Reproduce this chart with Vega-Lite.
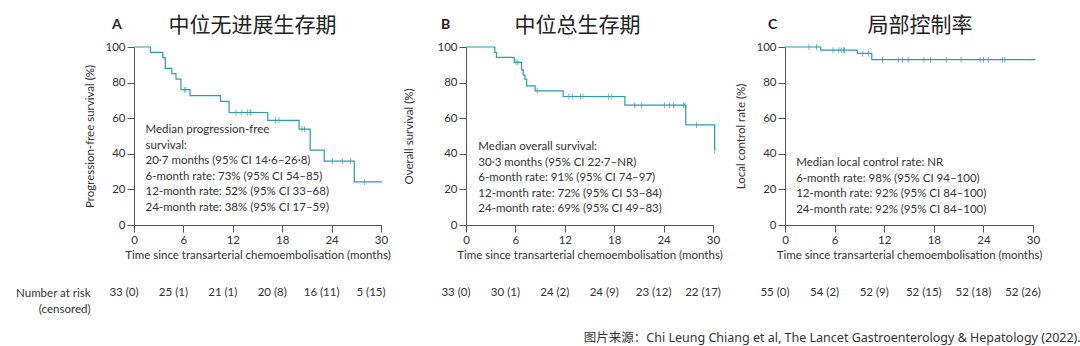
{
  "$schema": "https://vega.github.io/schema/vega-lite/v6.json",
  "padding": {"left": 15, "top": 15, "right": 5, "bottom": 5},
  "background": "white",
  "config": {
    "view": {"stroke": null},
    "font": "Lato",
    "axis": {"labelFont": "Lato", "titleFont": "Lato", "labelFontSize": 11.5, "titleFontSize": 11.5, "titleFontWeight": "normal", "labelColor": "#333", "titleColor": "#333", "domainColor": "#555", "tickColor": "#555", "grid": false, "tickSize": 7, "labelPadding": 2, "labelOverlap": false},
    "axisX": {"labelFlush": false},
    "title": {"font": "Noto Sans CJK SC", "fontWeight": "normal", "color": "#222"},
    "text": {"font": "Lato", "fontSize": 11.5, "color": "#333"}
  },
  "datasets": {
    "km": [
      {"panel": "A", "t": 0, "s": 100}, {"panel": "A", "t": 2.0, "s": 97}, {"panel": "A", "t": 3.5, "s": 94}, {"panel": "A", "t": 3.8, "s": 88}, {"panel": "A", "t": 4.6, "s": 85}, {"panel": "A", "t": 5.1, "s": 82}, {"panel": "A", "t": 5.7, "s": 76}, {"panel": "A", "t": 6.8, "s": 72.7}, {"panel": "A", "t": 10.5, "s": 69.4}, {"panel": "A", "t": 11.55, "s": 63.2}, {"panel": "A", "t": 16.25, "s": 58.8}, {"panel": "A", "t": 20.05, "s": 53.9}, {"panel": "A", "t": 21.4, "s": 42.1}, {"panel": "A", "t": 23.1, "s": 35.9}, {"panel": "A", "t": 26.75, "s": 24.2}, {"panel": "A", "t": 30.1, "s": 24.2},
      {"panel": "B", "t": 0, "s": 100}, {"panel": "B", "t": 3.5, "s": 97}, {"panel": "B", "t": 3.7, "s": 94.2}, {"panel": "B", "t": 5.86, "s": 91.4}, {"panel": "B", "t": 6.75, "s": 87.2}, {"panel": "B", "t": 6.95, "s": 84.2}, {"panel": "B", "t": 7.15, "s": 82}, {"panel": "B", "t": 7.36, "s": 78.2}, {"panel": "B", "t": 8.4, "s": 75.4}, {"panel": "B", "t": 11.8, "s": 72.2}, {"panel": "B", "t": 19.3, "s": 67.3}, {"panel": "B", "t": 26.7, "s": 56.2}, {"panel": "B", "t": 30.2, "s": 42.1},
      {"panel": "C", "t": 0, "s": 100}, {"panel": "C", "t": 4.33, "s": 98.2}, {"panel": "C", "t": 8.75, "s": 96.4}, {"panel": "C", "t": 10.5, "s": 92.9}, {"panel": "C", "t": 30.3, "s": 92.9}
    ],
    "censor": [
      {"panel": "A", "t": 6.1, "s": 76}, {"panel": "A", "t": 6.3, "s": 76}, {"panel": "A", "t": 12.4, "s": 63.2}, {"panel": "A", "t": 13.1, "s": 63.2}, {"panel": "A", "t": 13.8, "s": 63.2}, {"panel": "A", "t": 14.1, "s": 63.2}, {"panel": "A", "t": 14.2, "s": 63.2}, {"panel": "A", "t": 17.2, "s": 58.8}, {"panel": "A", "t": 17.6, "s": 58.8}, {"panel": "A", "t": 20.4, "s": 53.9}, {"panel": "A", "t": 20.7, "s": 53.9}, {"panel": "A", "t": 24.1, "s": 35.9}, {"panel": "A", "t": 25.3, "s": 35.9}, {"panel": "A", "t": 26.3, "s": 35.9}, {"panel": "A", "t": 28.0, "s": 24.2},
      {"panel": "B", "t": 6.07, "s": 91.4}, {"panel": "B", "t": 6.3, "s": 91.4}, {"panel": "B", "t": 8.65, "s": 75.4}, {"panel": "B", "t": 12.5, "s": 72.2}, {"panel": "B", "t": 12.9, "s": 72.2}, {"panel": "B", "t": 13.9, "s": 72.2}, {"panel": "B", "t": 14.2, "s": 72.2}, {"panel": "B", "t": 17.3, "s": 72.2}, {"panel": "B", "t": 17.7, "s": 72.2}, {"panel": "B", "t": 20.5, "s": 67.3}, {"panel": "B", "t": 21.3, "s": 67.3}, {"panel": "B", "t": 24.1, "s": 67.3}, {"panel": "B", "t": 24.7, "s": 67.3}, {"panel": "B", "t": 25.2, "s": 67.3}, {"panel": "B", "t": 26.4, "s": 67.3}, {"panel": "B", "t": 26.6, "s": 67.3}, {"panel": "B", "t": 28.0, "s": 56.2}, {"panel": "B", "t": 30.2, "s": 42.1},
      {"panel": "C", "t": 2.9, "s": 100}, {"panel": "C", "t": 3.8, "s": 100}, {"panel": "C", "t": 5.8, "s": 98.2}, {"panel": "C", "t": 6.5, "s": 98.2}, {"panel": "C", "t": 6.8, "s": 98.2}, {"panel": "C", "t": 7.1, "s": 98.2}, {"panel": "C", "t": 7.2, "s": 98.2}, {"panel": "C", "t": 9.4, "s": 96.4}, {"panel": "C", "t": 10.1, "s": 96.4}, {"panel": "C", "t": 11.8, "s": 92.9}, {"panel": "C", "t": 13.7, "s": 92.9}, {"panel": "C", "t": 14.2, "s": 92.9}, {"panel": "C", "t": 14.9, "s": 92.9}, {"panel": "C", "t": 16.8, "s": 92.9}, {"panel": "C", "t": 17.6, "s": 92.9}, {"panel": "C", "t": 19.5, "s": 92.9}, {"panel": "C", "t": 21.3, "s": 92.9}, {"panel": "C", "t": 23.6, "s": 92.9}, {"panel": "C", "t": 24.0, "s": 92.9}, {"panel": "C", "t": 24.6, "s": 92.9}, {"panel": "C", "t": 26.3, "s": 92.9}, {"panel": "C", "t": 26.6, "s": 92.9}
    ],
    "risk": [
      {"panel": "A", "row": "Number at risk", "t": 0, "label": "33 (0)"}, {"panel": "A", "row": "Number at risk", "t": 6, "label": "25 (1)"}, {"panel": "A", "row": "Number at risk", "t": 12, "label": "21 (1)"}, {"panel": "A", "row": "Number at risk", "t": 18, "label": "20 (8)"}, {"panel": "A", "row": "Number at risk", "t": 24, "label": "16 (11)"}, {"panel": "A", "row": "Number at risk", "t": 30, "label": "5 (15)"},
      {"panel": "B", "row": "Number at risk", "t": 0, "label": "33 (0)"}, {"panel": "B", "row": "Number at risk", "t": 6, "label": "30 (1)"}, {"panel": "B", "row": "Number at risk", "t": 12, "label": "24 (2)"}, {"panel": "B", "row": "Number at risk", "t": 18, "label": "24 (9)"}, {"panel": "B", "row": "Number at risk", "t": 24, "label": "23 (12)"}, {"panel": "B", "row": "Number at risk", "t": 30, "label": "22 (17)"},
      {"panel": "C", "row": "Number at risk", "t": 0, "label": "55 (0)"}, {"panel": "C", "row": "Number at risk", "t": 6, "label": "54 (2)"}, {"panel": "C", "row": "Number at risk", "t": 12, "label": "52 (9)"}, {"panel": "C", "row": "Number at risk", "t": 18, "label": "52 (15)"}, {"panel": "C", "row": "Number at risk", "t": 24, "label": "52 (18)"}, {"panel": "C", "row": "Number at risk", "t": 30, "label": "52 (26)"}
    ]
  },
  "title": {"text": "图片来源：Chi Leung Chiang et al, The Lancet Gastroenterology & Hepatology (2022).", "orient": "bottom", "anchor": "end", "fontSize": 12.5, "color": "#333", "font": "Noto Sans, Noto Sans CJK SC", "offset": 17, "dx": 39},
  "spacing": 12,
  "hconcat": [
    {
      "title": {"text": "A", "anchor": "start", "frame": "group", "font": "Lato", "fontSize": 14, "fontWeight": "bold", "color": "#222", "dx": -22, "dy": 21},
      "spacing": 22,
      "vconcat": [
        {
          "width": 247, "height": 178,
          "title": {"text": "中位无进展生存期", "fontSize": 21, "anchor": "middle", "offset": 5, "dx": -5},
          "layer": [
            {"data": {"name": "km"}, "transform": [{"filter": "datum.panel === 'A'"}],
             "mark": {"type": "line", "interpolate": "step-after", "color": "#2b9cab", "strokeWidth": 1.2},
             "encoding": {
               "x": {"field": "t", "type": "quantitative", "scale": {"domain": [0, 30], "nice": false}, "axis": {"values": [0, 6, 12, 18, 24, 30], "tickCount": 12, "title": "Time since transarterial chemoembolisation (months)"}},
               "y": {"field": "s", "type": "quantitative", "scale": {"domain": [0, 100]}, "axis": {"values": [0, 20, 40, 60, 80, 100], "tickCount": 12, "title": "Progression-free survival (%)", "titlePadding": 9}}
             }},
            {"data": {"name": "censor"}, "transform": [{"filter": "datum.panel === 'A'"}],
             "mark": {"type": "tick", "orient": "vertical", "color": "#2b9cab", "size": 6, "thickness": 1},
             "encoding": {"x": {"field": "t", "type": "quantitative"}, "y": {"field": "s", "type": "quantitative"}}},
            {"data": {"values": [{}]},
             "mark": {"type": "text", "align": "left", "baseline": "top", "lineHeight": 15.5},
             "encoding": {"x": {"datum": 1.4}, "y": {"datum": 56.5}, "text": {"value": ["Median progression-free", "survival:", "20·7 months (95% CI 14·6–26·8)", "6-month rate: 73% (95% CI 54–85)", "12-month rate: 52% (95% CI 33–68)", "24-month rate: 38% (95% CI 17–59)"]}}}
          ]
        },
        {
          "width": 247, "height": 20,
          "data": {"name": "risk"}, "transform": [{"filter": "datum.panel === 'A'"}],
          "mark": {"type": "text", "align": "center", "dx": -10},
          "encoding": {
            "x": {"field": "t", "type": "quantitative", "scale": {"domain": [0, 30], "nice": false}, "axis": null},
            "y": {"field": "row", "type": "nominal", "scale": {"paddingInner": 0, "paddingOuter": 0}, "axis": {"title": null, "domain": false, "ticks": false, "labelPadding": 44, "labelBaseline": "top", "labelOffset": -6, "labelAlign": "right", "labelLineHeight": 16, "labelExpr": "[datum.label, '(censored)']"}},
            "text": {"field": "label"}
          }
        }
      ]
    },
    {
      "title": {"text": "B", "anchor": "start", "frame": "group", "font": "Lato", "fontSize": 14, "fontWeight": "bold", "color": "#222", "dx": -25, "dy": 21},
      "spacing": 22,
      "vconcat": [
        {
          "width": 247, "height": 178,
          "title": {"text": "中位总生存期", "fontSize": 21, "anchor": "middle", "offset": 5, "dx": -12},
          "layer": [
            {"data": {"name": "km"}, "transform": [{"filter": "datum.panel === 'B'"}],
             "mark": {"type": "line", "interpolate": "step-after", "color": "#2b9cab", "strokeWidth": 1.2},
             "encoding": {
               "x": {"field": "t", "type": "quantitative", "scale": {"domain": [0, 30], "nice": false}, "axis": {"values": [0, 6, 12, 18, 24, 30], "tickCount": 12, "title": "Time since transarterial chemoembolisation (months)"}},
               "y": {"field": "s", "type": "quantitative", "scale": {"domain": [0, 100]}, "axis": {"values": [0, 20, 40, 60, 80, 100], "tickCount": 12, "title": "Overall survival (%)", "titlePadding": 22}}
             }},
            {"data": {"name": "censor"}, "transform": [{"filter": "datum.panel === 'B'"}],
             "mark": {"type": "tick", "orient": "vertical", "color": "#2b9cab", "size": 6, "thickness": 1},
             "encoding": {"x": {"field": "t", "type": "quantitative"}, "y": {"field": "s", "type": "quantitative"}}},
            {"data": {"values": [{}]},
             "mark": {"type": "text", "align": "left", "baseline": "top", "lineHeight": 15.6},
             "encoding": {"x": {"datum": 1.5}, "y": {"datum": 47.2}, "text": {"value": ["Median overall survival:", "30·3 months (95% CI 22·7–NR)", "6-month rate: 91% (95% CI 74–97)", "12-month rate: 72% (95% CI 53–84)", "24-month rate: 69% (95% CI 49–83)"]}}}
          ]
        },
        {
          "width": 247, "height": 20,
          "data": {"name": "risk"}, "transform": [{"filter": "datum.panel === 'B'"}],
          "mark": {"type": "text", "align": "center", "dx": -10},
          "encoding": {
            "x": {"field": "t", "type": "quantitative", "scale": {"domain": [0, 30], "nice": false}, "axis": null},
            "y": {"field": "row", "type": "nominal", "scale": {"paddingInner": 0, "paddingOuter": 0}, "axis": null},
            "text": {"field": "label"}
          }
        }
      ]
    },
    {
      "title": {"text": "C", "anchor": "start", "frame": "group", "font": "Lato", "fontSize": 14, "fontWeight": "bold", "color": "#222", "dx": -17, "dy": 21},
      "spacing": 22,
      "vconcat": [
        {
          "width": 248, "height": 178,
          "title": {"text": "局部控制率", "fontSize": 21, "anchor": "middle", "offset": 5, "dx": 11},
          "layer": [
            {"data": {"name": "km"}, "transform": [{"filter": "datum.panel === 'C'"}],
             "mark": {"type": "line", "interpolate": "step-after", "color": "#2b9cab", "strokeWidth": 1.2},
             "encoding": {
               "x": {"field": "t", "type": "quantitative", "scale": {"domain": [0, 30], "nice": false}, "axis": {"values": [0, 6, 12, 18, 24, 30], "tickCount": 12, "title": "Time since transarterial chemoembolisation (months)"}},
               "y": {"field": "s", "type": "quantitative", "scale": {"domain": [0, 100]}, "axis": {"values": [0, 20, 40, 60, 80, 100], "tickCount": 12, "title": "Local control rate (%)", "titlePadding": 9}}
             }},
            {"data": {"name": "censor"}, "transform": [{"filter": "datum.panel === 'C'"}],
             "mark": {"type": "tick", "orient": "vertical", "color": "#2b9cab", "size": 6, "thickness": 1},
             "encoding": {"x": {"field": "t", "type": "quantitative"}, "y": {"field": "s", "type": "quantitative"}}},
            {"data": {"values": [{}]},
             "mark": {"type": "text", "align": "left", "baseline": "top", "lineHeight": 15.6},
             "encoding": {"x": {"datum": 1.35}, "y": {"datum": 38.2}, "text": {"value": ["Median local control rate: NR", "6-month rate: 98% (95% CI 94–100)", "12-month rate: 92% (95% CI 84–100)", "24-month rate: 92% (95% CI 84–100)"]}}}
          ]
        },
        {
          "width": 248, "height": 20,
          "data": {"name": "risk"}, "transform": [{"filter": "datum.panel === 'C'"}],
          "mark": {"type": "text", "align": "center", "dx": -10},
          "encoding": {
            "x": {"field": "t", "type": "quantitative", "scale": {"domain": [0, 30], "nice": false}, "axis": null},
            "y": {"field": "row", "type": "nominal", "scale": {"paddingInner": 0, "paddingOuter": 0}, "axis": null},
            "text": {"field": "label"}
          }
        }
      ]
    }
  ]
}
